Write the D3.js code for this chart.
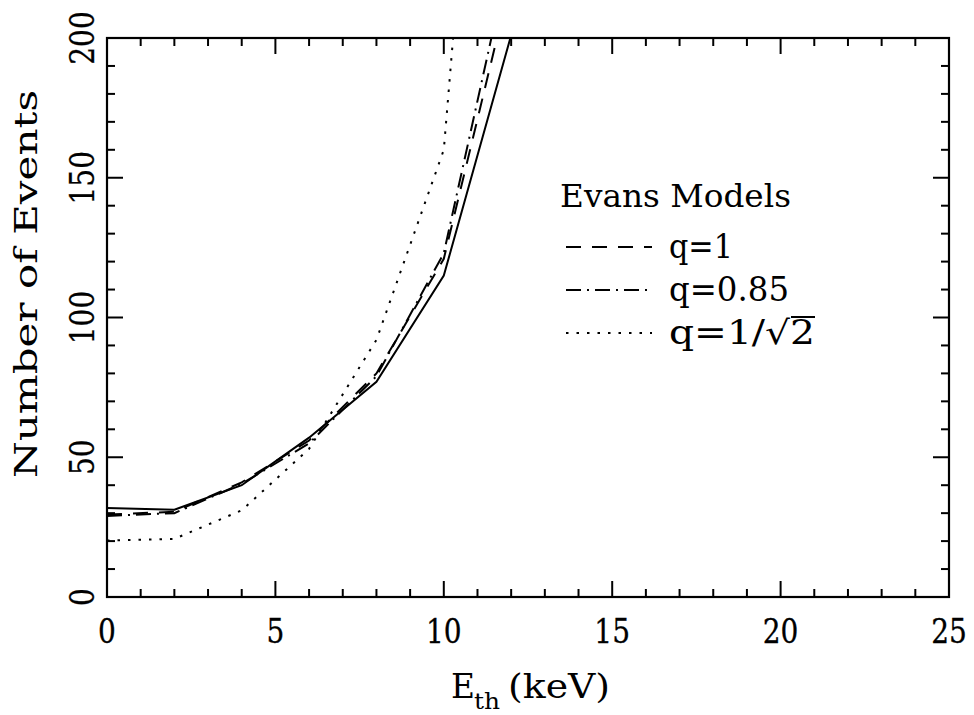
<!DOCTYPE html>
<html><head><meta charset="utf-8">
<script src="https://cdn.jsdelivr.net/npm/d3@7"></script>
<style>body{margin:0;background:#fff}svg{display:block}text{font-family:"DejaVu Serif",serif;fill:#000}</style>
</head><body>
<svg id="c" width="974" height="715"></svg>
<script>
const thresholds = [0, 2, 4, 6, 8, 10, 12];
const standardModel = [31.8, 31.2, 40, 57, 77, 115, 201];
const evansQ1 = [29.5, 30.5, 41, 56, 80, 121, 221];
const evansQ085 = [29, 30, 40.5, 55, 79, 123, 232];
const evansQSqrt = [20.2, 20.8, 31, 53, 92, 160, 450];
const xTickLabels = [0, 5, 10, 15, 20, 25];
const yTickLabels = [0, 50, 100, 150, 200];
const legendLabels = ["q=1", "q=0.85", "q=1/\u221A2"];

const svg = d3.select("#c");
const L = 107, R = 949, T = 38, B = 597;
const x = d3.scaleLinear().domain([0, 25]).range([L, R]);
const y = d3.scaleLinear().domain([0, 200]).range([B, T]);

svg.append("defs").append("clipPath").attr("id", "clip")
  .append("rect").attr("x", L).attr("y", T).attr("width", R - L).attr("height", B - T);

const styles = [
  {data: standardModel, dash: null},
  {data: evansQ1, dash: "15,11"},
  {data: evansQ085, dash: "15,6,2,6"},
  {data: evansQSqrt, dash: "2.5,8"}
];
const line = d3.line().x((d, i) => x(thresholds[i])).y(d => y(d));
const g = svg.append("g").attr("clip-path", "url(#clip)");
styles.forEach(s => {
  g.append("path").datum(s.data).attr("d", line)
    .attr("fill", "none").attr("stroke", "#000").attr("stroke-width", 2)
    .attr("stroke-dasharray", s.dash);
});

// frame
svg.append("rect").attr("x", L).attr("y", T).attr("width", R - L).attr("height", B - T)
  .attr("fill", "none").attr("stroke", "#000").attr("stroke-width", 2.2);

// ticks
const tk = svg.append("g").attr("stroke", "#000").attr("stroke-width", 2);
d3.range(0, 26, 1).forEach(v => {
  const len = v % 5 === 0 ? 16 : 8;
  tk.append("line").attr("x1", x(v)).attr("x2", x(v)).attr("y1", B).attr("y2", B - len);
  tk.append("line").attr("x1", x(v)).attr("x2", x(v)).attr("y1", T).attr("y2", T + len);
});
d3.range(0, 201, 10).forEach(v => {
  const len = v % 50 === 0 ? 16 : 8;
  tk.append("line").attr("y1", y(v)).attr("y2", y(v)).attr("x1", L).attr("x2", L + len);
  tk.append("line").attr("y1", y(v)).attr("y2", y(v)).attr("x1", R).attr("x2", R - len);
});

// tick labels
xTickLabels.forEach(v => {
  svg.append("text").attr("transform", `translate(${x(v)},643) scale(0.85,1)`)
    .attr("text-anchor", "middle").attr("font-size", 33).attr("stroke", "#000").attr("stroke-width", 0.3).text(v);
});
yTickLabels.forEach(v => {
  svg.append("text").attr("transform", `translate(94,${y(v)}) rotate(-90) scale(0.85,1)`)
    .attr("text-anchor", "middle").attr("font-size", 33).attr("stroke", "#000").attr("stroke-width", 0.3).text(v);
});

// axis titles
svg.append("text").attr("x", 451).attr("y", 698).attr("font-size", 33)
  .attr("textLength", 24).attr("lengthAdjust", "spacingAndGlyphs").text("E");
svg.append("text").attr("x", 474).attr("y", 709).attr("font-size", 22)
  .attr("textLength", 26).attr("lengthAdjust", "spacingAndGlyphs").text("th");
svg.append("text").attr("x", 508).attr("y", 698).attr("font-size", 33)
  .attr("textLength", 102).attr("lengthAdjust", "spacingAndGlyphs").text("(keV)");

svg.append("text").attr("transform", "translate(37,284) rotate(-90)")
  .attr("text-anchor", "middle").attr("font-size", 32)
  .attr("textLength", 388).attr("lengthAdjust", "spacingAndGlyphs").text("Number of Events");

// legend
svg.append("text").attr("x", 560).attr("y", 207).attr("font-size", 31)
  .attr("textLength", 231).attr("lengthAdjust", "spacingAndGlyphs").text("Evans Models");
const legY = [247, 290, 333];
const legW = [64, 120, 146];
[1, 2, 3].forEach((si, i) => {
  svg.append("line").attr("x1", 566).attr("x2", 652).attr("y1", legY[i]).attr("y2", legY[i])
    .attr("stroke", "#000").attr("stroke-width", 2).attr("stroke-dasharray", styles[si].dash);
  svg.append("text").attr("x", 669).attr("y", legY[i] + 11).attr("font-size", 33)
    .attr("textLength", legW[i]).attr("lengthAdjust", "spacingAndGlyphs").text(legendLabels[i]);
});
// overline (vinculum) on the square-root argument
svg.append("line").attr("x1", 791).attr("x2", 815).attr("y1", 317).attr("y2", 317)
  .attr("stroke", "#000").attr("stroke-width", 2);
</script>
</body></html>
